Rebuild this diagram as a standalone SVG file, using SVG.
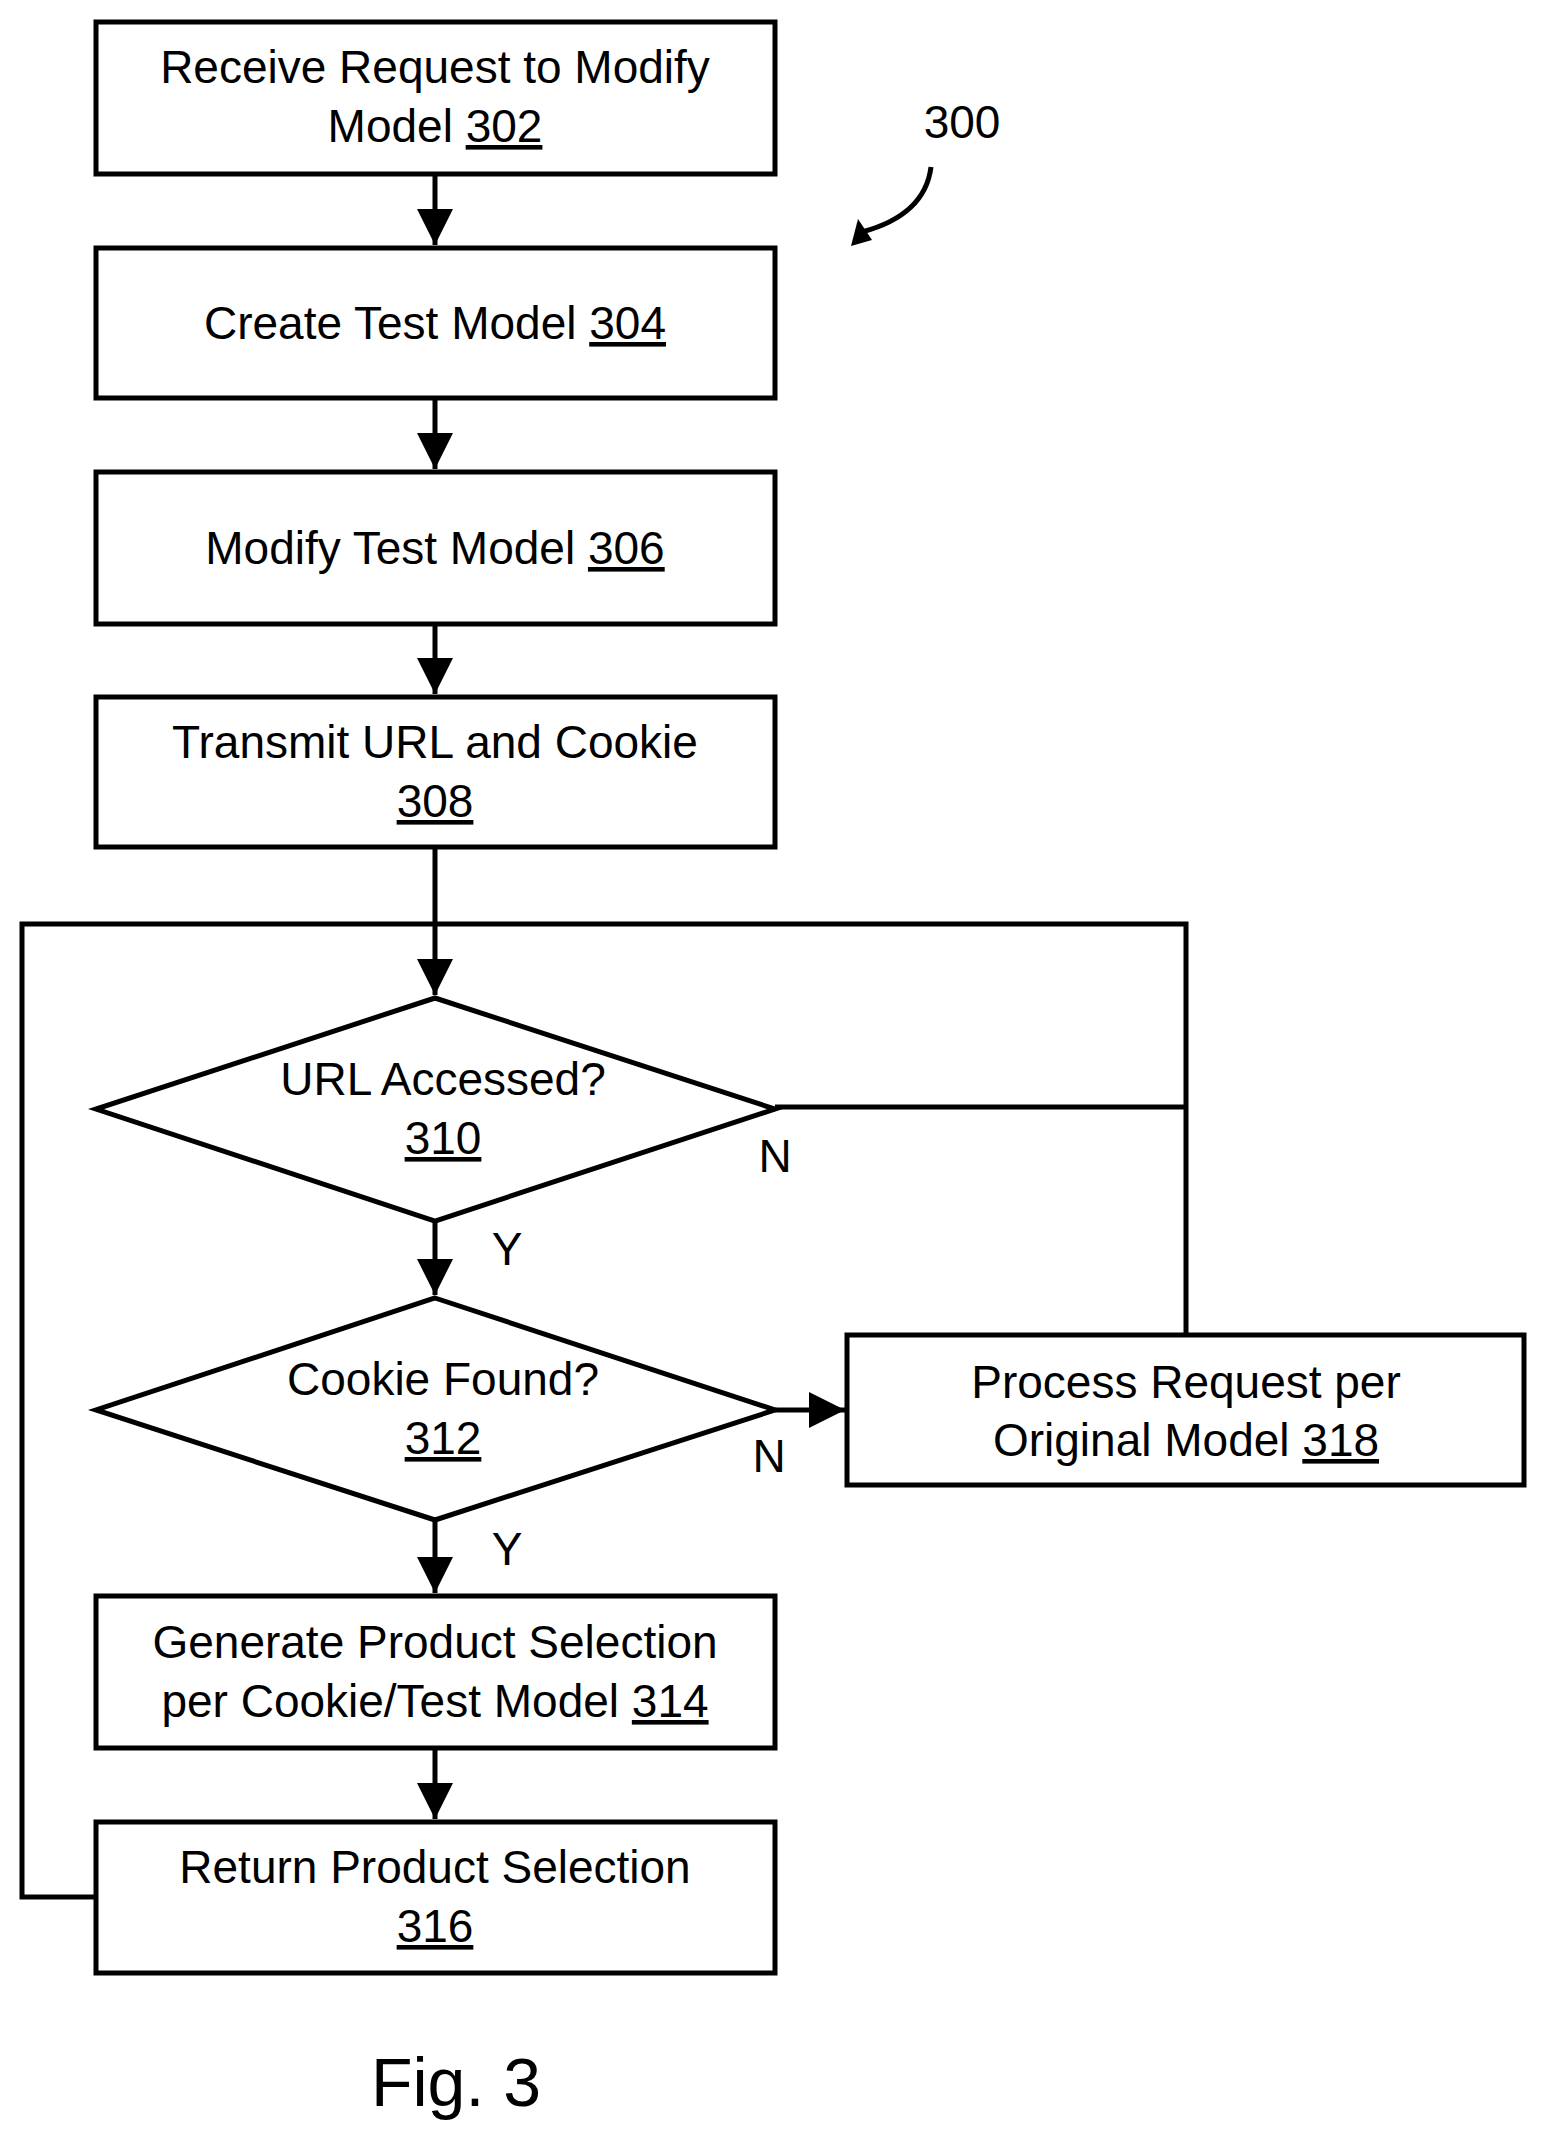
<svg xmlns="http://www.w3.org/2000/svg" width="1547" height="2147" viewBox="0 0 1547 2147">
<style>
.b{fill:#fff;stroke:#000;stroke-width:5}
.l{fill:none;stroke:#000;stroke-width:5}
text{font-family:"Liberation Sans",Arial,sans-serif;font-size:46px;fill:#000;text-anchor:middle}
.u{text-decoration:underline}
</style>
<defs><marker id="a" markerWidth="36" markerHeight="40" refX="36" refY="18" orient="auto" markerUnits="userSpaceOnUse"><path d="M0,0 L36,18 L0,36 Z" fill="#000"/></marker></defs>
<rect width="1547" height="2147" fill="#fff"/>
<g id="connectors">
<line class="l" x1="435" y1="174" x2="435" y2="245" marker-end="url(#a)"/>
<line class="l" x1="435" y1="398" x2="435" y2="469" marker-end="url(#a)"/>
<line class="l" x1="435" y1="624" x2="435" y2="694" marker-end="url(#a)"/>
<line class="l" x1="435" y1="847" x2="435" y2="995" marker-end="url(#a)"/>
<polyline class="l" points="96,1897 22,1897 22,924 1186,924 1186,1335"/>
<line class="l" x1="775" y1="1107" x2="1186" y2="1107"/>
<line class="l" x1="435" y1="1221" x2="435" y2="1295" marker-end="url(#a)"/>
<line class="l" x1="775" y1="1410" x2="845" y2="1410" marker-end="url(#a)"/>
<line class="l" x1="435" y1="1520" x2="435" y2="1593" marker-end="url(#a)"/>
<line class="l" x1="435" y1="1748" x2="435" y2="1819" marker-end="url(#a)"/>
<path class="l" d="M931,167 Q925,215 862,232"/>
<path d="M851,246 L858,219 L872,240 Z" fill="#000"/>
<text x="775" y="1172">N</text><text x="507" y="1265">Y</text>
<text x="769" y="1472">N</text><text x="507" y="1565">Y</text>
</g>
<g id="n302"><rect class="b" x="96" y="22" width="679" height="152"/><text x="435" y="83">Receive Request to Modify</text><text x="435" y="142">Model <tspan class="u">302</tspan></text></g>
<g id="n304"><rect class="b" x="96" y="248" width="679" height="150"/><text x="435" y="339">Create Test Model <tspan class="u">304</tspan></text></g>
<g id="n306"><rect class="b" x="96" y="472" width="679" height="152"/><text x="435" y="564">Modify Test Model <tspan class="u">306</tspan></text></g>
<g id="n308"><rect class="b" x="96" y="697" width="679" height="150"/><text x="435" y="758">Transmit URL and Cookie</text><text x="435" y="817"><tspan class="u">308</tspan></text></g>
<g id="n310"><polygon class="b" points="435,998 775,1109 435,1221 96,1109"/><text x="443" y="1095">URL Accessed?</text><text x="443" y="1154"><tspan class="u">310</tspan></text></g>
<g id="n312"><polygon class="b" points="435,1298 775,1410 435,1520 96,1410"/><text x="443" y="1395">Cookie Found?</text><text x="443" y="1454"><tspan class="u">312</tspan></text></g>
<g id="n318"><rect class="b" x="847" y="1335" width="677" height="150"/><text x="1186" y="1398">Process Request per</text><text x="1186" y="1456">Original Model <tspan class="u">318</tspan></text></g>
<g id="n314"><rect class="b" x="96" y="1596" width="679" height="152"/><text x="435" y="1658">Generate Product Selection</text><text x="435" y="1717">per Cookie/Test Model <tspan class="u">314</tspan></text></g>
<g id="n316"><rect class="b" x="96" y="1822" width="679" height="151"/><text x="435" y="1883">Return Product Selection</text><text x="435" y="1942"><tspan class="u">316</tspan></text></g>
<text x="962" y="138">300</text>
<text x="456" y="2106" style="font-size:68px">Fig. 3</text>
</svg>
